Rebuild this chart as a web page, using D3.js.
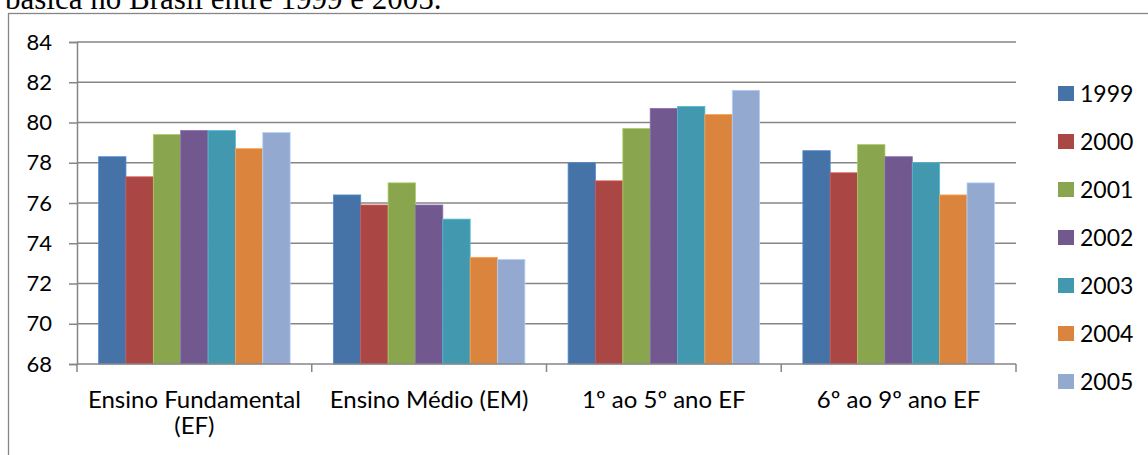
<!DOCTYPE html>
<html>
<head>
<meta charset="utf-8">
<script src="https://cdn.jsdelivr.net/npm/d3@7"></script>
<style>
  html, body { margin: 0; padding: 0; background: #fff; }
  svg { display: block; }
  text { font-family: Lato, "Noto Sans", sans-serif; fill: #000; }
  .caption { font-family: "Liberation Serif", "Times New Roman", serif; }
</style>
</head>
<body>
<svg id="chart" width="1148" height="455"></svg>
<script>
// Categories (stages of basic education) and years
const categories = ["Ensino Fundamental (EF)", "Ensino Médio (EM)", "1º ao 5º ano EF", "6º ao 9º ano EF"];
const years = ["1999", "2000", "2001", "2002", "2003", "2004", "2005"];

// One value per category, for each year
const v1999 = [78.3, 76.4, 78.0, 78.6];
const v2000 = [77.3, 75.9, 77.1, 77.5];
const v2001 = [79.4, 77.0, 79.7, 78.9];
const v2002 = [79.6, 75.9, 80.7, 78.3];
const v2003 = [79.6, 75.2, 80.8, 78.0];
const v2004 = [78.7, 73.3, 80.4, 76.4];
const v2005 = [79.5, 73.2, 81.6, 77.0];

const yTicks = [68, 70, 72, 74, 76, 78, 80, 82, 84];
const colors = ["#4572A7", "#AA4643", "#89A54E", "#71588F", "#4198AF", "#DB843D", "#93A9CF"];

const seriesValues = [v1999, v2000, v2001, v2002, v2003, v2004, v2005];

const svg = d3.select("#chart");
const plot = { left: 77, right: 1016, top: 42, bottom: 364 };
const axisColor = "#868686";

// Caption line above the chart frame
svg.append("text")
  .attr("class", "caption")
  .attr("x", 5).attr("y", 9)
  .attr("font-size", 31)
  .text("básica no Brasil entre 1999 e 2005.");

// Chart frame
svg.append("rect")
  .attr("x", 8.5).attr("y", 13.5)
  .attr("width", 1200).attr("height", 500)
  .attr("fill", "none")
  .attr("stroke", axisColor)
  .attr("stroke-width", 1.3);

const y = d3.scaleLinear().domain([68, 84]).range([plot.bottom, plot.top]);
const x0 = d3.scaleBand().domain(categories).range([plot.left, plot.right]).padding(0);
const x1 = d3.scaleBand().domain(years).range([0, x0.bandwidth()])
  .paddingInner(0).paddingOuter(0.79);

// Horizontal gridlines
svg.append("g")
  .selectAll("line")
  .data(yTicks.filter(t => t !== 68))
  .join("line")
  .attr("x1", plot.left).attr("x2", plot.right)
  .attr("y1", d => y(d)).attr("y2", d => y(d))
  .attr("stroke", axisColor).attr("stroke-width", 1.5);

// Y axis
const yAxis = d3.axisLeft(y).tickValues(yTicks).tickSize(8).tickPadding(17).tickFormat(d3.format("d"));
const gy = svg.append("g").attr("transform", `translate(${plot.left},0)`).call(yAxis);
gy.select(".domain").attr("stroke", axisColor).attr("stroke-width", 1.5);
gy.selectAll(".tick line").attr("stroke", axisColor).attr("stroke-width", 1.5);
gy.selectAll(".tick text").attr("font-size", 22).attr("font-family", "Lato, sans-serif").attr("fill", "#000");

// Bars
const groups = svg.append("g")
  .selectAll("g")
  .data(categories)
  .join("g")
  .attr("transform", d => `translate(${x0(d)},0)`);

groups.selectAll("rect")
  .data((c, ci) => years.map((yr, si) => ({ yr, si, value: seriesValues[si][ci] })))
  .join("rect")
  .attr("x", d => x1(d.yr))
  .attr("width", x1.bandwidth())
  .attr("y", d => y(d.value))
  .attr("height", d => y(68) - y(d.value))
  .attr("fill", d => colors[d.si])
  .attr("stroke", d => d3.color(colors[d.si]).brighter(0.6))
  .attr("stroke-width", 0.8);

// X axis with ticks between categories
svg.append("line")
  .attr("x1", plot.left).attr("x2", plot.right)
  .attr("y1", plot.bottom).attr("y2", plot.bottom)
  .attr("stroke", axisColor).attr("stroke-width", 1.5);

const boundaries = categories.map(c => x0(c)).concat([plot.right]);
svg.append("g")
  .selectAll("line")
  .data(boundaries)
  .join("line")
  .attr("x1", d => d).attr("x2", d => d)
  .attr("y1", plot.bottom).attr("y2", plot.bottom + 8)
  .attr("stroke", axisColor).attr("stroke-width", 1.5);

// Category labels, wrapped to the band width
const labelFont = 24;
const catLabels = svg.append("g")
  .selectAll("text")
  .data(categories)
  .join("text")
  .attr("x", d => x0(d) + x0.bandwidth() / 2)
  .attr("y", 408)
  .attr("text-anchor", "middle")
  .attr("font-size", labelFont);

catLabels.each(function(d) {
  const t = d3.select(this);
  const words = d.split(" ");
  const maxW = x0.bandwidth() - 8;
  let line = [];
  let tspan = t.append("tspan").attr("x", t.attr("x")).attr("dy", 0);
  words.forEach(w => {
    line.push(w);
    tspan.text(line.join(" "));
    if (tspan.node().getComputedTextLength() > maxW && line.length > 1) {
      line.pop();
      tspan.text(line.join(" "));
      line = [w];
      tspan = t.append("tspan").attr("x", t.attr("x")).attr("dy", 26).text(w);
    }
  });
});

// Legend
const legend = svg.append("g")
  .selectAll("g")
  .data(years)
  .join("g")
  .attr("transform", (d, i) => `translate(1058,${86 + i * 48})`);

legend.append("rect")
  .attr("width", 16).attr("height", 15)
  .attr("fill", (d, i) => colors[i]);

legend.append("text")
  .attr("x", 22).attr("y", 15.5)
  .attr("font-size", 23)
  .text(d => d);
</script>
</body>
</html>
